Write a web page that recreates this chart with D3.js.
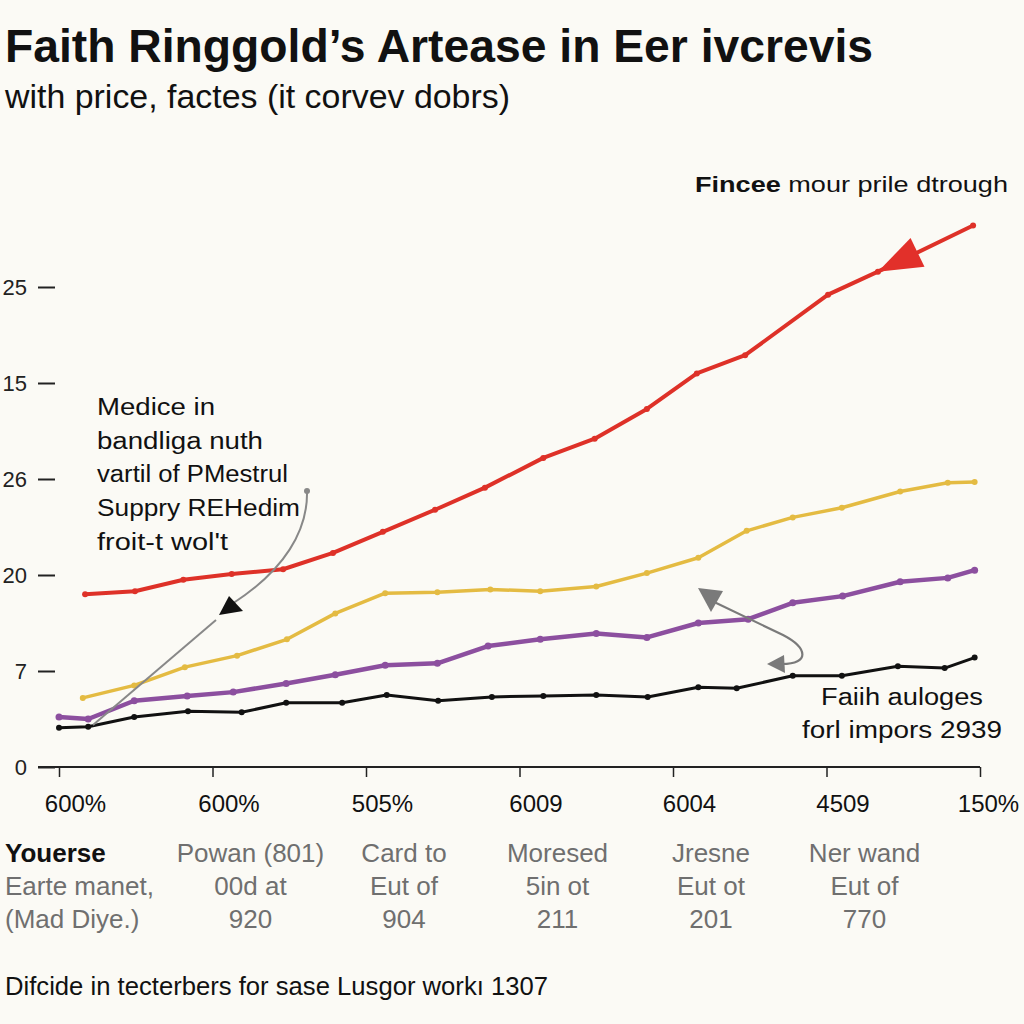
<!DOCTYPE html>
<html>
<head>
<meta charset="utf-8">
<script src="https://cdn.jsdelivr.net/npm/d3@7"></script>
<style>
  html, body { margin: 0; padding: 0; background: #fbfaf5; }
  svg { display: block; }
  text { font-family: "Liberation Sans", Arial, Helvetica, sans-serif; }
</style>
</head>
<body>
<svg id="chart" width="1024" height="1024"></svg>
<script>
// ---------- data ----------
const xTickValues = [0, 20, 40, 60, 80, 100, 120];
const xTickLabels = ["600%", "600%", "505%", "6009", "6004", "4509", "150%"];
const yTickValues = [0, 10, 20, 30, 40, 50];
const yTickLabels = ["0", "7", "20", "26", "15", "25"];

const redX    = [3.4, 9.9, 16.2, 22.5, 29.2, 35.7, 42.2, 49.0, 55.5, 63.1, 69.8, 76.6, 83.1, 89.4, 100.2, 106.7, 119.1];
const redY    = [18.0, 18.3, 19.5, 20.1, 20.6, 22.3, 24.5, 26.8, 29.1, 32.2, 34.2, 37.3, 41.0, 42.9, 49.2, 51.6, 56.4];

const yellowX = [3.1, 9.8, 16.4, 23.2, 29.7, 36.0, 42.5, 49.3, 56.2, 62.7, 70.0, 76.6, 83.3, 89.6, 95.6, 102.0, 109.6, 115.8, 119.3];
const yellowY = [7.2, 8.5, 10.4, 11.6, 13.3, 16.0, 18.1, 18.2, 18.5, 18.3, 18.8, 20.2, 21.8, 24.6, 26.0, 27.0, 28.7, 29.6, 29.7];

const purpleX = [0, 3.8, 9.8, 16.7, 22.7, 29.6, 36.0, 42.5, 49.3, 55.9, 62.7, 70.0, 76.6, 83.3, 89.8, 95.6, 102.1, 109.6, 115.8, 119.3];
const purpleY = [5.2, 5.0, 6.9, 7.4, 7.8, 8.7, 9.6, 10.6, 10.8, 12.6, 13.3, 13.9, 13.5, 15.0, 15.4, 17.1, 17.8, 19.3, 19.7, 20.5];

const blackX  = [0, 3.8, 9.8, 16.8, 23.8, 29.6, 36.9, 42.7, 49.4, 56.4, 63.1, 70.0, 76.7, 83.3, 88.3, 95.6, 102.0, 109.3, 115.4, 119.3];
const blackY  = [4.1, 4.2, 5.2, 5.8, 5.7, 6.7, 6.7, 7.5, 6.9, 7.3, 7.4, 7.5, 7.3, 8.3, 8.2, 9.5, 9.5, 10.5, 10.3, 11.4];

const catLead = ["Youerse", "Earte manet,", "(Mad Diye.)"];
const catTicks = [20, 40, 60, 80, 100];
const catLines = [
  ["Powan (801)", "00d at", "920"],
  ["Card to", "Eut of", "904"],
  ["Moresed", "5in ot", "211"],
  ["Jresne", "Eut ot", "201"],
  ["Ner wand", "Eut of", "770"]
];

const titleText = "Faith Ringgold\u2019s Artease in Eer ivcrevis";
const subtitleText = "with price, factes (it corvev dobrs)";
const footerText = "Difcide in tecterbers for sase Lusgor work\u0131 1307";
const noteLeft = ["Medice in", "bandliga nuth", "vartil of PMestrul", "Suppry REHedim", "froit-t wol't"];
const noteRight = ["Faiih auloges", "forl impors 2939"];

// ---------- drawing ----------
const svg = d3.select("#chart");
svg.append("rect").attr("width", 1024).attr("height", 1024).attr("fill", "#fbfaf5");

const x = d3.scaleLinear().domain([0, 120]).range([59, 980]);
const y = d3.scaleLinear().domain([0, 50]).range([767, 287]);
const noteFont = "'DejaVu Sans', 'Liberation Sans', Arial, sans-serif";

// title
svg.append("text").attr("x", 5).attr("y", 62)
  .attr("font-size", 46).attr("font-weight", "bold").attr("fill", "#111")
  .attr("textLength", 868).attr("lengthAdjust", "spacingAndGlyphs")
  .text(titleText);
svg.append("text").attr("x", 5).attr("y", 108)
  .attr("font-size", 34).attr("fill", "#111")
  .attr("textLength", 505).attr("lengthAdjust", "spacingAndGlyphs")
  .text(subtitleText);

// y axis (ticks as short dashes, no domain)
const yAxis = svg.append("g").attr("transform", "translate(55,0)")
  .call(d3.axisLeft(y).tickValues(yTickValues).tickSize(17).tickPadding(11)
    .tickFormat((d, i) => yTickLabels[i]));
yAxis.select(".domain").remove();
yAxis.selectAll(".tick line").attr("stroke", "#222").attr("stroke-width", 2);
yAxis.selectAll(".tick text").attr("font-size", 22).attr("fill", "#222")
  .attr("font-family", "Liberation Sans, Arial, sans-serif");

// x axis
const xAxis = svg.append("g").attr("transform", "translate(0,767)")
  .call(d3.axisBottom(x).tickValues(xTickValues).tickSize(10).tickSizeOuter(0)
    .tickFormat((d, i) => xTickLabels[i]));
xAxis.select(".domain").remove();
xAxis.append("line").attr("x1", 38).attr("x2", x(120)).attr("y1", 0).attr("y2", 0)
  .attr("stroke", "#222").attr("stroke-width", 2);
xAxis.selectAll(".tick line").attr("stroke", "#222").attr("stroke-width", 1.5);
xAxis.selectAll(".tick text").attr("font-size", 24).attr("fill", "#111")
  .attr("y", 45).attr("dy", null).attr("dx", (d, i) => i === 6 ? 8 : 16)
  .attr("font-family", "Liberation Sans, Arial, sans-serif");

// lines
const line = d3.line().x(d => x(d[0])).y(d => y(d[1]));
const series = [
  { xs: blackX,  ys: blackY,  color: "#111111", w: 3,   r: 3 },
  { xs: purpleX, ys: purpleY, color: "#8c4f9f", w: 4.5, r: 3.5 },
  { xs: yellowX, ys: yellowY, color: "#e4bb42", w: 3.5, r: 3 },
  { xs: redX,    ys: redY,    color: "#de3128", w: 4,   r: 3 }
];
series.forEach(s => {
  const pts = s.xs.map((v, i) => [v, s.ys[i]]);
  svg.append("path").datum(pts).attr("d", line)
    .attr("fill", "none").attr("stroke", s.color).attr("stroke-width", s.w)
    .attr("stroke-linejoin", "round").attr("stroke-linecap", "round");
  svg.append("g").selectAll("circle").data(pts).join("circle")
    .attr("cx", d => x(d[0])).attr("cy", d => y(d[1])).attr("r", s.r)
    .attr("fill", s.color);
});

// red arrowhead on the last segment, pointing back down the line
(function () {
  const n = redX.length;
  const tx = x(redX[n - 2]), ty = y(redY[n - 2]);
  const ex = x(redX[n - 1]), ey = y(redY[n - 1]);
  const len = Math.hypot(ex - tx, ey - ty);
  const ux = (ex - tx) / len, uy = (ey - ty) / len;
  const L = 44, H = 16;
  const bx = tx + ux * L, by = ty + uy * L;
  const p = [[tx, ty], [bx - uy * H, by + ux * H], [bx + uy * H, by - ux * H]];
  svg.append("polygon").attr("points", p.map(q => q.join(",")).join(" "))
    .attr("fill", "#e2302a");
})();

// annotation: top right
const tr = svg.append("text").attr("x", 695).attr("y", 192).attr("font-size", 22.5)
  .attr("font-family", noteFont)
  .attr("fill", "#111").attr("textLength", 313).attr("lengthAdjust", "spacingAndGlyphs");
tr.append("tspan").attr("font-weight", "bold").text("Fincee");
tr.append("tspan").text(" mour prile dtrough");

// annotation: left block
const leftWidths = [118, 166, 191, 203, 131];
noteLeft.forEach((t, i) => {
  svg.append("text").attr("x", 97).attr("y", 415 + i * 33.7).attr("font-size", 23.5)
    .attr("font-family", noteFont)
    .attr("fill", "#111").attr("textLength", leftWidths[i]).attr("lengthAdjust", "spacingAndGlyphs")
    .text(t);
});

// grey curved arrow (left)
svg.append("circle").attr("cx", 307).attr("cy", 491).attr("r", 3).attr("fill", "#888");
svg.append("path").attr("d", "M307,491 C308,530 285,570 232,604")
  .attr("fill", "none").attr("stroke", "#888").attr("stroke-width", 2);
svg.append("polygon").attr("points", "219,615 229,596 243,611").attr("fill", "#111");
svg.append("path").attr("d", "M216,620 L93,725")
  .attr("fill", "none").attr("stroke", "#888").attr("stroke-width", 2);

// grey double arrow (right)
svg.append("path").attr("d", "M710,600 L783,635 C808,648 810,664 782,664")
  .attr("fill", "none").attr("stroke", "#7a7a7a").attr("stroke-width", 2.2);
svg.append("polygon").attr("points", "698,588 723,591 711,612").attr("fill", "#7a7a7a");
svg.append("polygon").attr("points", "767,664 784,655 785,673").attr("fill", "#7a7a7a");

// annotation: bottom right
const rightWidths = [162, 200];
noteRight.forEach((t, i) => {
  svg.append("text").attr("x", 902).attr("y", 705 + i * 33).attr("font-size", 23.5)
    .attr("font-family", noteFont)
    .attr("text-anchor", "middle").attr("fill", "#111")
    .attr("textLength", rightWidths[i]).attr("lengthAdjust", "spacingAndGlyphs")
    .text(t);
});

// category labels below axis
const rowY = [862, 895, 928];
catLead.forEach((t, i) => {
  svg.append("text").attr("x", 5).attr("y", rowY[i]).attr("font-size", 26)
    .attr("font-weight", i === 0 ? "bold" : "normal")
    .attr("fill", i === 0 ? "#111" : "#6f6f6f")
    .text(t);
});
catLines.forEach((lines, c) => {
  lines.forEach((t, i) => {
    svg.append("text").attr("x", x(catTicks[c]) + 38).attr("y", rowY[i])
      .attr("font-size", 26).attr("text-anchor", "middle").attr("fill", "#6f6f6f")
      .text(t);
  });
});

// footer
svg.append("text").attr("x", 5).attr("y", 995).attr("font-size", 25).attr("fill", "#111")
  .attr("textLength", 543).attr("lengthAdjust", "spacingAndGlyphs")
  .text(footerText);
</script>
</body>
</html>
